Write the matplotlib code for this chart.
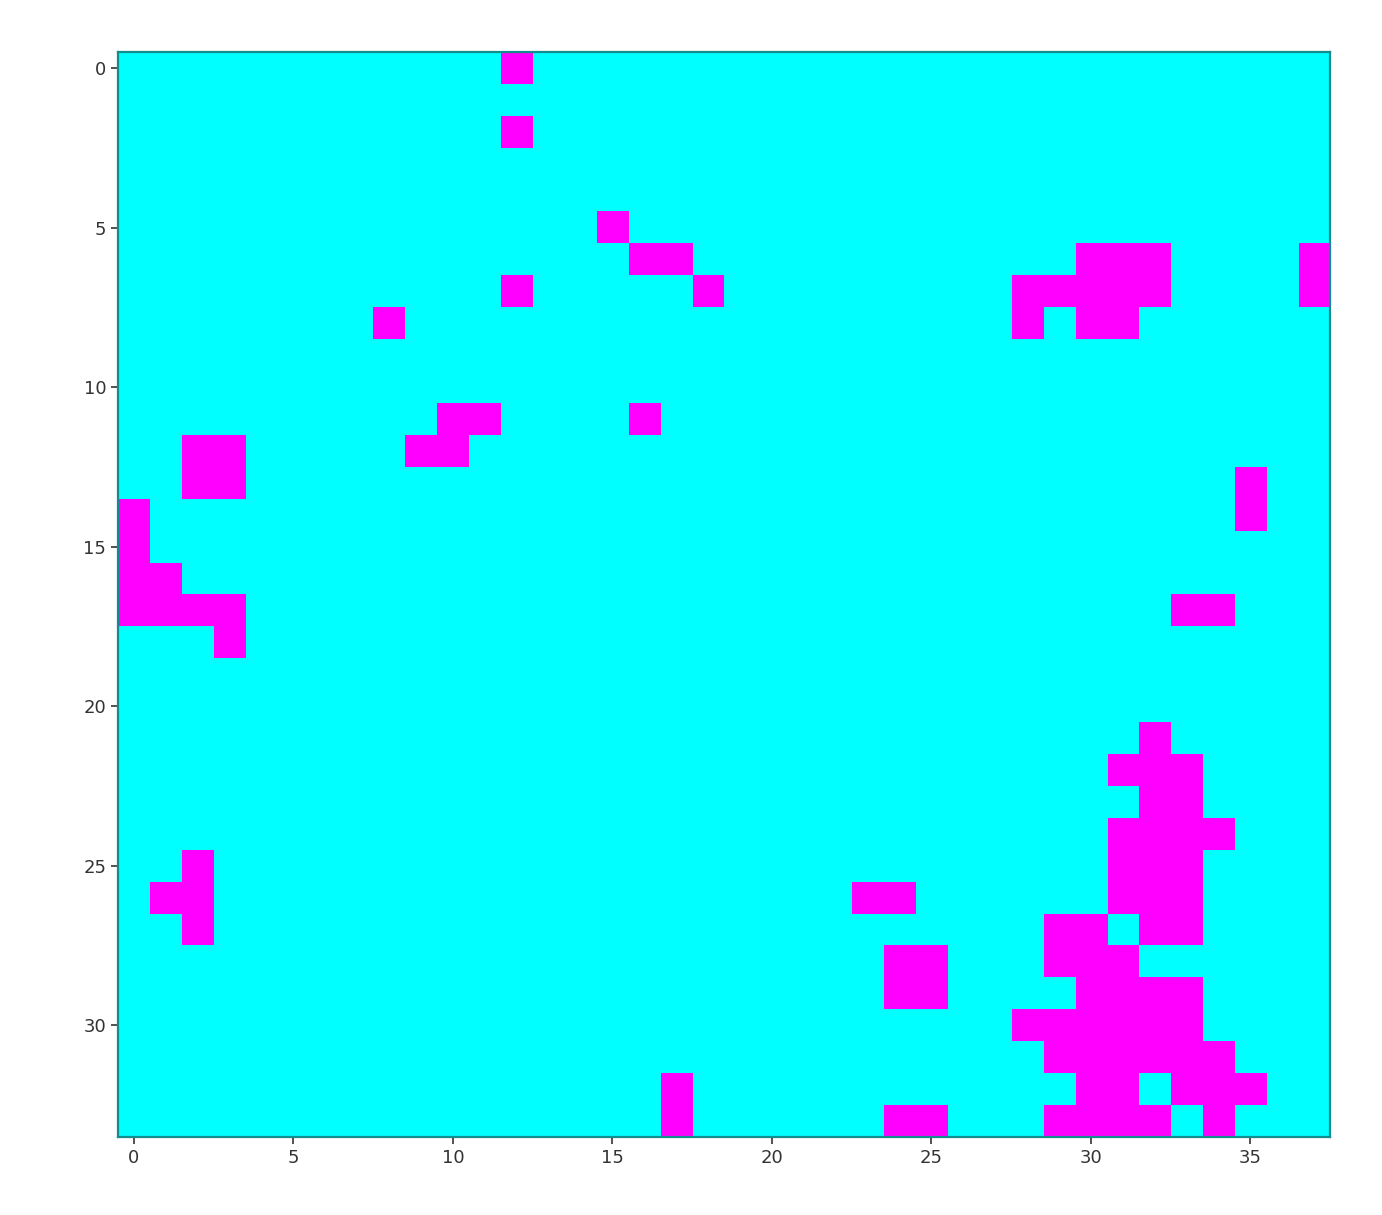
import numpy as np
import matplotlib
matplotlib.use('Agg')
import matplotlib.pyplot as plt

# grid size: 34 rows x 38 columns
n_rows = 34
n_cols = 38

# columns that are "on" (magenta) in each row
on_cells = {
    0: [12],
    2: [12],
    5: [15],
    6: [16, 17, 30, 31, 32, 37],
    7: [12, 18, 28, 29, 30, 31, 32, 37],
    8: [8, 28, 30, 31],
    11: [10, 11, 16],
    12: [2, 3, 9, 10],
    13: [2, 3, 35],
    14: [0, 35],
    15: [0],
    16: [0, 1],
    17: [0, 1, 2, 3, 33, 34],
    18: [3],
    21: [32],
    22: [31, 32, 33],
    23: [32, 33],
    24: [31, 32, 33, 34],
    25: [2, 31, 32, 33],
    26: [1, 2, 23, 24, 31, 32, 33],
    27: [2, 29, 30, 32, 33],
    28: [24, 25, 29, 30, 31],
    29: [24, 25, 30, 31, 32, 33],
    30: [28, 29, 30, 31, 32, 33],
    31: [29, 30, 31, 32, 33, 34],
    32: [17, 30, 31, 33, 34, 35],
    33: [17, 24, 25, 29, 30, 31, 32, 34],
}

grid = np.zeros((n_rows, n_cols))
for r, cols in on_cells.items():
    grid[r, cols] = 1

fig = plt.figure(figsize=(13.82, 12.15), dpi=100)
ax = fig.add_axes([0.0854, 0.0642, 0.877, 0.893])
ax.imshow(grid, cmap='cool', interpolation='nearest', vmin=0, vmax=1)

ax.set_xticks(range(0, 36, 5))
ax.set_yticks(range(0, 34, 5))
ax.tick_params(labelsize=13, colors='#333333', length=5, width=1.2)
for s in ax.spines.values():
    s.set_color('#128c8c')
    s.set_linewidth(1.6)

fig.savefig('out.png', dpi=100)
